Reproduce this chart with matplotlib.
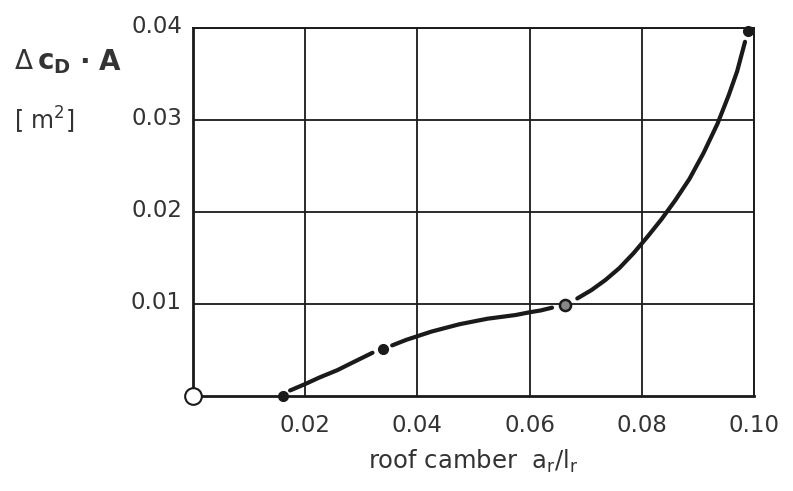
import matplotlib.pyplot as plt
import matplotlib.transforms as mtransforms

plt.rcParams['font.family'] = ['DejaVu Sans']

# measured points
point_x = [0.0, 0.016, 0.0338, 0.0663, 0.099]
point_y = [0.0, 0.0, 0.0051, 0.0099, 0.0397]

seg1_x = [0.0173, 0.020, 0.0225, 0.0257, 0.028, 0.030, 0.032]
seg1_y = [0.0006, 0.0013, 0.0020, 0.0028, 0.0035, 0.0041, 0.0047]
seg2_x = [0.0355, 0.038, 0.040, 0.0425, 0.045, 0.0475, 0.050, 0.0525, 0.055, 0.0575, 0.060, 0.062, 0.064]
seg2_y = [0.0055, 0.0061, 0.0065, 0.0070, 0.0074, 0.0078, 0.0081, 0.0084, 0.0086, 0.0088, 0.0091, 0.0093, 0.0096]
seg3_x = [0.0685, 0.071, 0.0735, 0.076, 0.0785, 0.081, 0.0835, 0.086, 0.0885, 0.091,
          0.0935, 0.0955, 0.097, 0.0984]
seg3_y = [0.0106, 0.0115, 0.0126, 0.0139, 0.0155, 0.0173, 0.0192, 0.0213, 0.0236, 0.0264,
          0.0296, 0.0327, 0.0353, 0.0385]

x_ticks = [0.02, 0.04, 0.06, 0.08, 0.10]
x_labels = ['0.02', '0.04', '0.06', '0.08', '0.10']
y_ticks = [0.01, 0.02, 0.03, 0.04]
y_labels = ['0.01', '0.02', '0.03', '0.04']

ink = '#1a1a1a'
txt = '#333333'

fig = plt.figure(figsize=(7.93, 4.91), dpi=100)
ax = fig.add_axes([0.2434, 0.1935, 0.7074, 0.7495])
ax.set_xlim(0, 0.10)
ax.set_ylim(0, 0.04)

ax.set_xticks(x_ticks)
ax.set_xticklabels(x_labels)
ax.set_yticks(y_ticks)
ax.set_yticklabels(y_labels)
ax.tick_params(axis='both', length=0, labelsize=16.5, colors=txt)
ax.tick_params(axis='x', pad=13)
ax.tick_params(axis='y', pad=8)

# y tick labels sit a little above the gridlines
shift = mtransforms.ScaledTranslation(0, 4 / 100, fig.dpi_scale_trans)
for lab in ax.get_yticklabels():
    lab.set_transform(lab.get_transform() + shift)

ax.grid(True, color=ink, lw=1.3)
for side in ['left', 'bottom']:
    ax.spines[side].set_linewidth(2.0)
    ax.spines[side].set_color(ink)
for side in ['top', 'right']:
    ax.spines[side].set_linewidth(1.4)
    ax.spines[side].set_color(ink)

for sx, sy in [(seg1_x, seg1_y), (seg2_x, seg2_y), (seg3_x, seg3_y)]:
    ax.plot(sx, sy, color=ink, lw=3.0, solid_capstyle='round', solid_joinstyle='round',
            clip_on=False, zorder=3)

# open point at the origin, filled measured points
ax.plot(point_x[0], point_y[0], 'o', ms=12, mfc='white', mec=ink, mew=1.5, clip_on=False, zorder=4)
ax.plot(point_x[1:3], point_y[1:3], 'o', ms=7, color=ink, clip_on=False, zorder=4)
ax.plot(point_x[3], point_y[3], 'o', ms=8, mfc='#888888', mec=ink, mew=1.8, clip_on=False, zorder=4)
ax.plot(point_x[4], point_y[4], 'o', ms=7, color=ink, clip_on=False, zorder=4)

ax.set_xlabel(r'roof camber  $\mathregular{a_r/l_r}$', fontsize=17.5, color=txt, labelpad=8)

fig.text(14 / 793, 1 - 62 / 491, r'$\mathregular{\Delta}$', fontsize=19, color=txt, va='center')
fig.text(37 / 793, 1 - 62 / 491, r'$\mathbf{c_D}$', fontsize=20, color=txt, va='center',
         math_fontfamily='dejavusans')
fig.text(79 / 793, 1 - 62 / 491, '·', fontsize=20, color=txt, va='center', fontweight='bold')
fig.text(99 / 793, 1 - 62 / 491, 'A', fontsize=20, color=txt, va='center', fontweight='bold')
fig.text(14 / 793, 1 - 120 / 491, r'[ m$^\mathregular{2}$]', fontsize=17, color=txt, va='center')

fig.savefig('out.png', dpi=100, facecolor='white')
